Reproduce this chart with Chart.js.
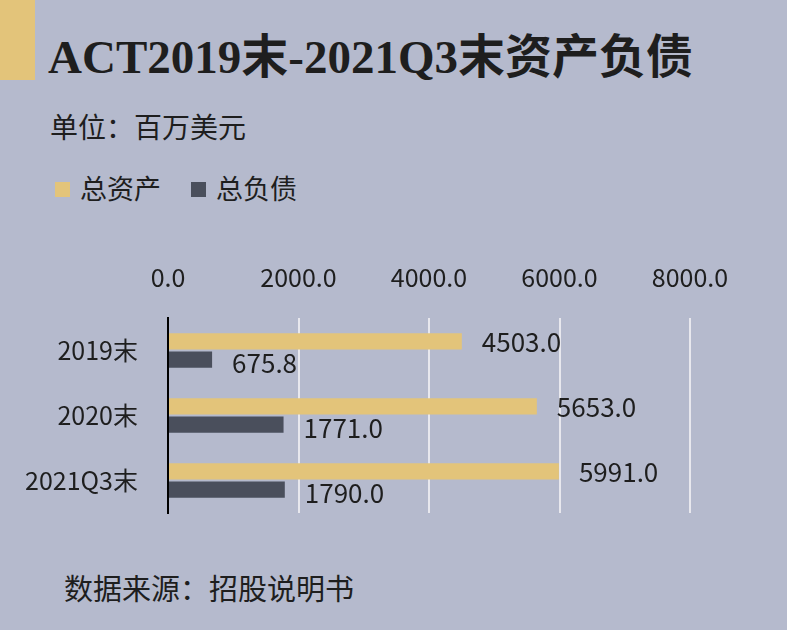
<!DOCTYPE html>
<html><head><meta charset="utf-8">
<script src="https://cdn.jsdelivr.net/npm/chart.js@4/dist/chart.umd.min.js"></script>
<style>
html,body{margin:0;padding:0;}
body{width:787px;height:630px;background:#B5BACD;position:relative;overflow:hidden;font-family:"Noto Sans CJK SC",sans-serif;color:#1e1e1e;}
.acc{position:absolute;left:0;top:0;width:35px;height:80px;background:#E3C47A;}
.t{position:absolute;white-space:nowrap;}
#wrap{position:absolute;left:0;top:250px;width:787px;height:300px;}
.sw{display:inline-block;width:15px;height:15px;vertical-align:middle;margin-right:10px;position:relative;top:-2px;}
</style></head><body>
<div class="acc"></div>
<div class="t" style="left:48px;top:18px;font:bold 47px 'Liberation Serif','Noto Sans CJK SC';">ACT2019末-2021Q3末资产负债</div>
<div class="t" style="left:50px;top:106px;font-size:28px;">单位：百万美元</div>
<div class="t" style="left:55px;top:168px;font-size:27px;"><span class="sw" style="background:#E3C47A"></span>总资产<span style="display:inline-block;width:30px"></span><span class="sw" style="background:#4A4F5C"></span>总负债</div>
<div class="t" style="left:64px;top:566px;font-size:29px;">数据来源：招股说明书</div>
<div id="wrap"><canvas id="c"></canvas></div>
<script>
const categories=["2019末","2020末","2021Q3末"];
const totalAssets=[4503.0,5653.0,5991.0];
const totalLiabilities=[675.8,1771.0,1790.0];
const tickMax=8000;
const labelPlugin={id:'lbl',afterDatasetsDraw(ch){const c=ch.ctx;c.save();c.font="26px 'Noto Sans CJK SC'";c.fillStyle='#1e1e1e';c.textBaseline='middle';
ch.data.datasets.forEach((d,i)=>{ch.getDatasetMeta(i).data.forEach((b,j)=>{c.fillText(d.data[j].toFixed(1),b.x+20,b.y+(i?4:1));});});c.restore();}};
new Chart(document.getElementById('c'),{type:'bar',
data:{labels:categories,datasets:[
{label:'总资产',data:totalAssets,backgroundColor:'#E3C47A',categoryPercentage:0.56,barPercentage:0.9},
{label:'总负债',data:totalLiabilities,backgroundColor:'#4A4F5C',categoryPercentage:0.56,barPercentage:0.9}]},
options:{indexAxis:'y',responsive:true,maintainAspectRatio:false,animation:false,
layout:{padding:{right:97,bottom:0}},
plugins:{legend:{display:false},tooltip:{enabled:false}},
scales:{x:{position:'top',min:0,max:tickMax,ticks:{stepSize:2000,color:'#1e1e1e',font:{size:25,family:'Noto Sans CJK SC'},callback:v=>v.toFixed(1),padding:26},
grid:{color:'#E8E8EE',lineWidth:2,drawTicks:false},border:{display:false},afterFit:a=>{a.height=68;}},
y:{ticks:{color:'#1e1e1e',font:{size:25,family:'Noto Sans CJK SC'},padding:22},grid:{display:false},border:{color:'#000',width:2},afterFit:a=>{a.width=168;}}}},
plugins:[labelPlugin]});
</script></body></html>
